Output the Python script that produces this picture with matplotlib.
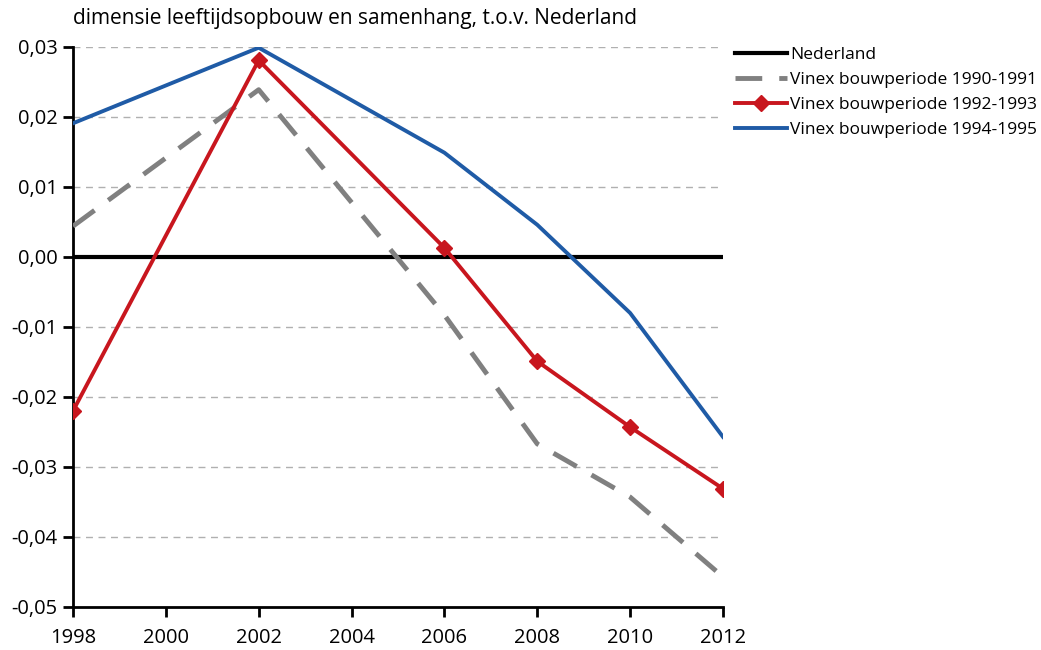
import matplotlib.pyplot as plt

jaren = [1998, 2002, 2006, 2008, 2010, 2012]
nederland = [0, 0, 0, 0, 0, 0]
vinex_1990_1991 = [0.0044, 0.0239, -0.0083, -0.0267, -0.0343, -0.0457]
vinex_1992_1993 = [-0.0220, 0.0281, 0.0013, -0.0149, -0.0243, -0.0331]
vinex_1994_1995 = [0.0191, 0.0299, 0.0149, 0.0046, -0.0080, -0.0257]

xticks = [1998, 2000, 2002, 2004, 2006, 2008, 2010, 2012]
yticks = [-0.05, -0.04, -0.03, -0.02, -0.01, 0.0, 0.01, 0.02, 0.03]

plt.rcParams['font.family'] = ['Open Sans', 'DejaVu Sans']

fig = plt.figure(figsize=(10.41, 6.5), dpi=100)
ax = fig.add_axes([0.0701, 0.0662, 0.6244, 0.8615])

for y in yticks:
    if y != 0 and y != -0.05:
        ax.axhline(y, color="#b0b0b0", linewidth=1, linestyle=(0, (5, 4)), zorder=0)

ax.plot(jaren, nederland, color="black", linewidth=3, label="Nederland", zorder=2)
ax.plot(jaren, vinex_1990_1991, color="#808080", linewidth=3.5,
        linestyle=(0, (5.5, 3.5)), label="Vinex bouwperiode 1990-1991", zorder=3)
ax.plot(jaren, vinex_1992_1993, color="#c8161e", linewidth=2.8, marker="D",
        markersize=8, label="Vinex bouwperiode 1992-1993", zorder=4)
ax.plot(jaren, vinex_1994_1995, color="#1f5ba6", linewidth=2.8,
        label="Vinex bouwperiode 1994-1995", zorder=3)

ax.set_xlim(1998, 2012)
ax.set_ylim(-0.05, 0.03)
ax.set_xticks(xticks)
ax.set_yticks(yticks)
ax.set_yticklabels([("%.2f" % v).replace(".", ",") for v in yticks])
ax.tick_params(axis="both", direction="out", length=7, width=2, labelsize=14.5)
ax.tick_params(axis="x", pad=8)
ax.tick_params(axis="y", pad=4)

for side in ["top", "right"]:
    ax.spines[side].set_visible(False)
for side in ["left", "bottom"]:
    ax.spines[side].set_linewidth(2)
ax.spines["bottom"].set_zorder(5)

fig.text(0.0701, 0.972, "dimensie leeftijdsopbouw en samenhang, t.o.v. Nederland",
         fontsize=15, va="center", ha="left")

ax.legend(loc="upper left", bbox_to_anchor=(1.008, 1.013), frameon=False,
          fontsize=12.5, handlelength=3.0, handletextpad=0.15, labelspacing=0.52,
          borderaxespad=0)

fig.savefig("out.png", dpi=100)
